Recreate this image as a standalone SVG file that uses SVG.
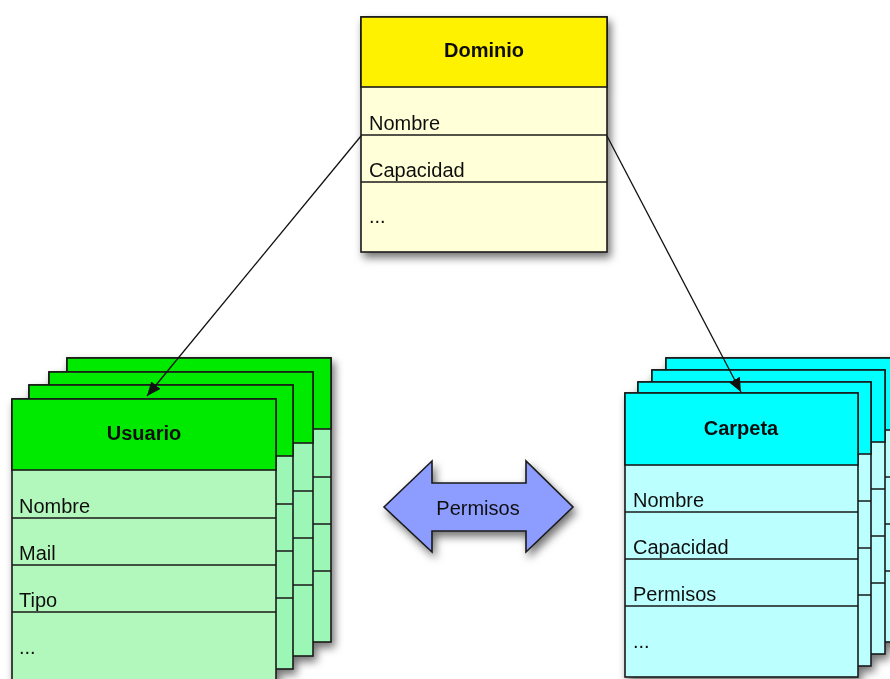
<svg xmlns="http://www.w3.org/2000/svg" width="890" height="679" viewBox="0 0 890 679">
<defs>
<style>
text{font-family:"Liberation Sans",Arial,sans-serif;font-size:20px;fill:#111}
.t{font-weight:bold;text-anchor:middle}
.s{stroke:#1a1a1a;stroke-width:1.6}
.dh{fill:#fff200}.db{fill:#ffffd8}
.uh{fill:#00ea00}.ub{fill:#b2f8bc}.ubb{fill:#9cf6b6}
.ch{fill:#00ffff}.cb{fill:#bbffff}
.conn{stroke:#111;stroke-width:1.3;fill:none;marker-end:url(#ah)}
</style>
<filter id="sh" x="-10%" y="-10%" width="130%" height="130%">
<feDropShadow dx="3" dy="5" stdDeviation="4" flood-color="#000" flood-opacity="0.55"/>
</filter>
<marker id="ah" markerUnits="userSpaceOnUse" markerWidth="16" markerHeight="14" refX="14" refY="6" orient="auto">
<path d="M0,0 L14,6 L0,12 z" fill="#111"/>
</marker>
</defs>
<rect width="890" height="679" fill="#fff"/>

<g id="usuario" filter="url(#sh)">
<g transform="translate(67,358)">
<rect class="s ubb" width="264" height="284"/><rect class="s uh" width="264" height="71"/>
<path class="s" d="M0,119H264M0,166H264M0,213H264"/>
</g>
<g transform="translate(49,372)">
<rect class="s ubb" width="264" height="284"/><rect class="s uh" width="264" height="71"/>
<path class="s" d="M0,119H264M0,166H264M0,213H264"/>
</g>
<g transform="translate(29,385)">
<rect class="s ubb" width="264" height="284"/><rect class="s uh" width="264" height="71"/>
<path class="s" d="M0,119H264M0,166H264M0,213H264"/>
</g>
<g transform="translate(12,399)">
<rect class="s ub" width="264" height="284"/><rect class="s uh" width="264" height="71"/>
<path class="s" d="M0,119H264M0,166H264M0,213H264"/>
<text class="t" x="132" y="41">Usuario</text>
<text x="7" y="114">Nombre</text>
<text x="7" y="161">Mail</text>
<text x="7" y="208">Tipo</text>
<text x="7" y="255">...</text>
</g>
</g>

<g id="carpeta" filter="url(#sh)">
<g transform="translate(666,358)">
<rect class="s cb" width="233" height="284"/><rect class="s ch" width="233" height="72"/>
<path class="s" d="M0,119H233M0,166H233M0,213H233"/>
</g>
<g transform="translate(652,370)">
<rect class="s cb" width="233" height="284"/><rect class="s ch" width="233" height="72"/>
<path class="s" d="M0,119H233M0,166H233M0,213H233"/>
</g>
<g transform="translate(638,382)">
<rect class="s cb" width="233" height="284"/><rect class="s ch" width="233" height="72"/>
<path class="s" d="M0,119H233M0,166H233M0,213H233"/>
</g>
<g transform="translate(625,393)">
<rect class="s cb" width="233" height="284"/><rect class="s ch" width="233" height="72"/>
<path class="s" d="M0,119H233M0,166H233M0,213H233"/>
<text class="t" x="116" y="42">Carpeta</text>
<text x="8" y="114">Nombre</text>
<text x="8" y="161">Capacidad</text>
<text x="8" y="208">Permisos</text>
<text x="8" y="255">...</text>
</g>
</g>

<g id="dominio" filter="url(#sh)">
<g transform="translate(361,17)">
<rect class="s db" width="246" height="235"/><rect class="s dh" width="246" height="70"/>
<path class="s" d="M0,118H246M0,165H246"/>
<text class="t" x="123" y="40">Dominio</text>
<text x="8" y="113">Nombre</text>
<text x="8" y="160">Capacidad</text>
<text x="8" y="206">...</text>
</g>
</g>

<g id="permisos" filter="url(#sh)">
<polygon class="s" fill="#8c9cff" points="384,507 432,461 432,483 526,483 526,461 573,507 526,552 526,531 432,531 432,552"/>
<text x="478" y="515" text-anchor="middle">Permisos</text>
</g>

<g id="connectors">
<line class="conn" x1="361" y1="136" x2="147" y2="396"/>
<line class="conn" x1="607" y1="136" x2="741" y2="392"/>
</g>
</svg>
